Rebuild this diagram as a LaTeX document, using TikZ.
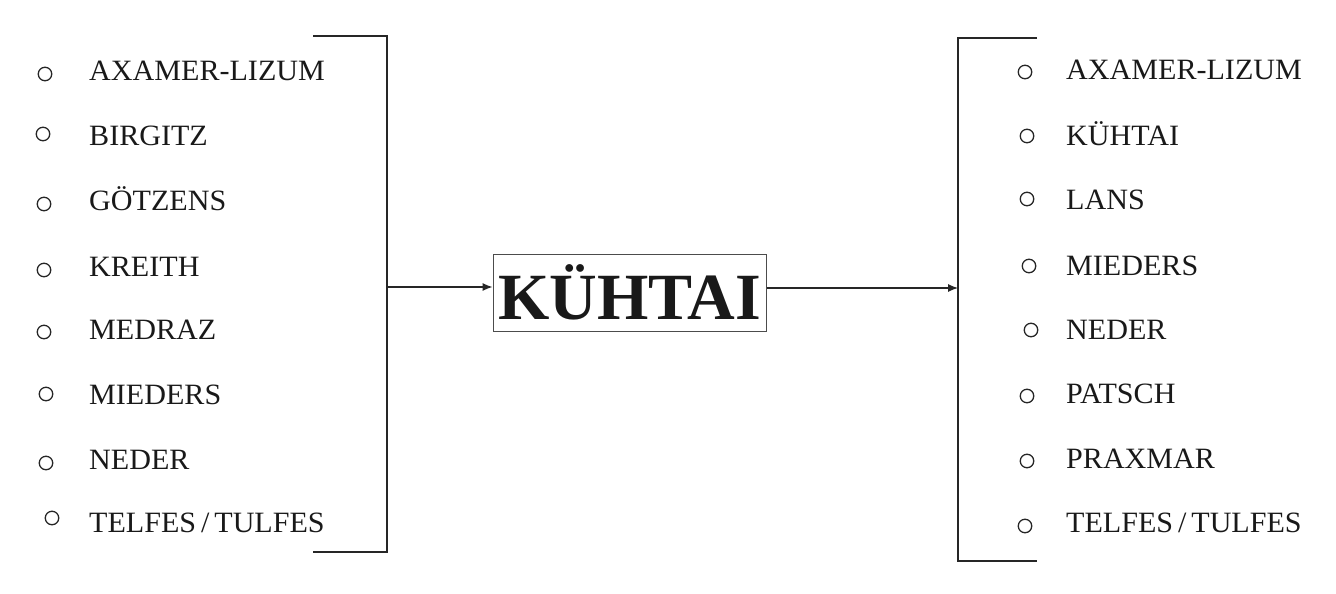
\documentclass[tikz,border=0pt]{standalone}
\usepackage{fontspec}
\setmainfont{Liberation Serif}
\usetikzlibrary{arrows.meta}
\tikzset{
  ln/.style={line width=1.1pt, draw=black!85},
  dot/.style={circle, draw=black!85, line width=1.3pt, minimum size=13.5pt, inner sep=0pt},
  item/.style={anchor=base west, inner sep=0pt, font=\fontsize{29.5}{31}\selectfont\addfontfeature{FakeStretch=1.02}, text=black!90},
  arr/.style={ln, -{Latex[length=10pt,width=8pt]}},
  mainbox/.style={draw=black!70, line width=1pt, minimum width=273pt, minimum height=77pt, inner sep=0pt,
    font=\fontsize{66}{70}\selectfont\bfseries, text=black!90}
}
\begin{document}
\begin{tikzpicture}[x=1pt,y=-1pt]
\useasboundingbox (0,0) rectangle (1336,594);
% left bracket
\coordinate (lt0) at (313,36);
\coordinate (lt1) at (387,36);
\coordinate (lb1) at (387,552);
\coordinate (lb0) at (313,552);
\coordinate (lm) at (387,287);
\draw[ln] (lt0) -- (lt1) -- (lb1) -- (lb0);
% central box
\node[mainbox] (box) at (629.5,292.5) {KÜHTAI};
% right bracket
\coordinate (rt0) at (1037,38);
\coordinate (rt1) at (958,38);
\coordinate (rb1) at (958,561);
\coordinate (rb0) at (1037,561);
\draw[ln] (rt0) -- (rt1) -- (rb1) -- (rb0);
\coordinate (rm) at (958,288);
% connectors
\draw[arr] (lm) -- (lm -| box.west);
\draw[arr] (box.east |- rm) -- (rm);
% left list
\foreach \n/\cx/\cy/\ty/\t in {
  l1/45/74/81/{AXAMER-LIZUM},
  l2/43/134/145/{BIRGITZ},
  l3/44/204/210/{GÖTZENS},
  l4/44/270/276/{KREITH},
  l5/44/332/339/{MEDRAZ},
  l6/46/394/404/{MIEDERS},
  l7/46/463/469/{NEDER},
  l8/52/518/532/{TELFES\,/\,TULFES}}{
  \node[dot] (\n c) at (\cx,\cy) {};
  \node[item] (\n t) at (89,\ty) {\t};
}
% right list
\foreach \n/\cx/\cy/\ty/\t in {
  r1/1025/72/80/{AXAMER-LIZUM},
  r2/1027/136/145/{KÜHTAI},
  r3/1027/199/209/{LANS},
  r4/1029/266/275/{MIEDERS},
  r5/1031/330/339/{NEDER},
  r6/1027/396/403/{PATSCH},
  r7/1027/461/468/{PRAXMAR},
  r8/1025/526/532/{TELFES\,/\,TULFES}}{
  \node[dot] (\n c) at (\cx,\cy) {};
  \node[item] (\n t) at (1066,\ty) {\t};
}
\end{tikzpicture}
\end{document}
